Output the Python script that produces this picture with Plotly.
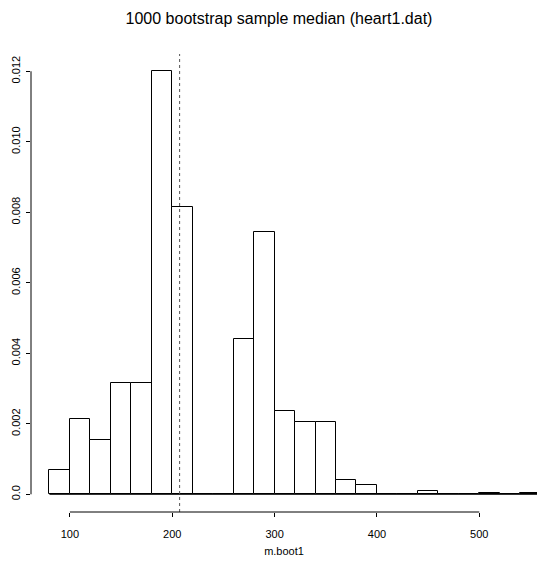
import plotly.graph_objects as go

# Histogram of 1000 bootstrap medians (bin width 20)
bin_starts = [80, 100, 120, 140, 160, 180, 200, 220, 240, 260, 280, 300,
              320, 340, 360, 380, 400, 420, 440, 460, 480, 500, 520, 540]
counts = [14, 43, 31, 63, 63, 240, 163, 0, 0, 88, 149, 47,
          41, 41, 8, 5, 0, 0, 2, 0, 0, 1, 0, 1]
n_total = 1000
bin_width = 20
median_value = 207.2

x_ticks = [100, 200, 300, 400, 500]
y_ticks = [0.0, 0.002, 0.004, 0.006, 0.008, 0.010, 0.012]
y_ticktext = ["0.0", "0.002", "0.004", "0.006", "0.008", "0.010", "0.012"]

centers = [s + bin_width / 2 for s in bin_starts]
density = [c / (n_total * bin_width) for c in counts]

FONT = "Liberation Sans, Arial, sans-serif"

xr = [62.0, 556.4]
yr = [-0.000502, 0.01249]

fig = go.Figure()
fig.add_trace(go.Bar(
    x=centers, y=density, width=bin_width,
    marker=dict(color="white", line=dict(color="black", width=1)),
    hoverinfo="x+y", showlegend=False,
))

# baseline of the histogram (zero-height bins are drawn flat in R)
fig.add_shape(type="line", xref="x", yref="y", x0=bin_starts[0],
              x1=bin_starts[-1] + bin_width, y0=0, y1=0,
              line=dict(color="black", width=1))
# median line (dotted, full plot height)
fig.add_shape(type="line", xref="x", yref="paper", x0=median_value, x1=median_value,
              y0=0, y1=1, line=dict(color="#555555", width=1, dash="dot"))
# R-style axis lines spanning only the tick range
fig.add_shape(type="line", xref="x", yref="paper", x0=x_ticks[0], x1=x_ticks[-1],
              y0=0, y1=0, line=dict(color="black", width=1))
fig.add_shape(type="line", xref="paper", yref="y", x0=0, x1=0,
              y0=y_ticks[0], y1=y_ticks[-1], line=dict(color="black", width=1))

fig.update_layout(
    width=537, height=563,
    margin=dict(l=31, r=0, t=54, b=51),
    plot_bgcolor="white", paper_bgcolor="white",
    font=dict(family=FONT, size=11, color="black"),
    bargap=0,
    title=dict(text="1000 bootstrap sample median (heart1.dat)",
               x=279 / 537, xanchor="center", xref="container",
               y=1 - 18 / 563, yanchor="middle", yref="container",
               font=dict(family=FONT, size=16, color="black")),
    xaxis=dict(range=xr, showgrid=False, zeroline=False, showline=False,
               tickvals=x_ticks, ticks="outside", ticklen=4, tickcolor="black",
               tickfont=dict(family=FONT, size=11, color="black"), ticklabelstandoff=8,
               title=dict(text="m.boot1", font=dict(family=FONT, size=11, color="black"),
                          standoff=8)),
    yaxis=dict(range=yr, showgrid=False, zeroline=False, showline=False,
               tickvals=y_ticks, ticktext=y_ticktext, ticks="outside", ticklen=4,
               tickcolor="black", tickangle=-90,
               tickfont=dict(family=FONT, size=11, color="black"),
               ticklabelstandoff=2),
)

fig.write_html("out.html")
